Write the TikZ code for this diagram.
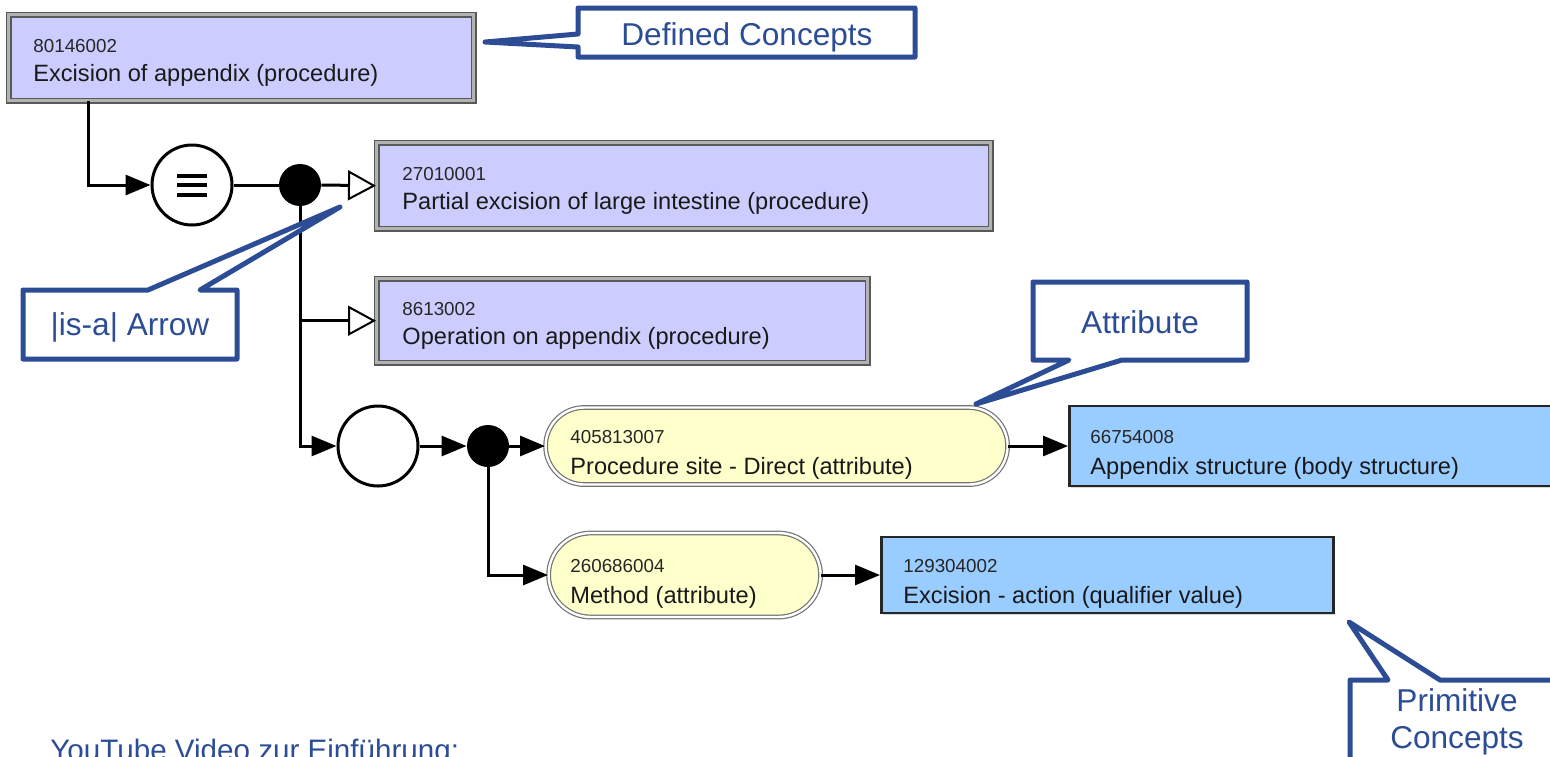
\documentclass[tikz,border=0pt]{standalone}
\usepackage{fontspec}
\setmainfont{Liberation Sans}
\usetikzlibrary{arrows.meta,calc,shapes.misc,shadows}
\definecolor{calloutblue}{RGB}{44,77,150}
\definecolor{lav}{HTML}{CCCCFF}
\definecolor{attrfill}{HTML}{FFFFCC}
\definecolor{primfill}{HTML}{99CCFF}
\begin{document}
\begin{tikzpicture}[x=0.5pt,y=-0.5pt,
  defbox/.style={rectangle, draw=black!65, double=black!30, double distance=1.5pt,
    line width=0.7pt, fill=lav, inner sep=0pt},
  primbox/.style={rectangle, draw=black!85, line width=1.4pt, fill=primfill, inner sep=0pt,
    drop shadow={shadow xshift=0.8pt, shadow yshift=-0.8pt, opacity=0.3}},
  attrbox/.style={rounded rectangle, draw=black!55, double=white, double distance=1.2pt,
    line width=0.6pt, fill=attrfill, inner sep=0pt},
  opnode/.style={circle, draw=black, line width=1.5pt, fill=white, minimum size=40pt, inner sep=0pt},
  dotnode/.style={circle, fill=black, minimum size=21pt, inner sep=0pt},
  conn/.style={line width=1.5pt, draw=black},
  arr/.style={conn, -{Triangle[length=12.5pt,width=10pt]}},
  isa/.style={conn, -{Triangle[open,length=14pt,width=15pt,line width=1pt,fill=white]}},
  numtext/.style={anchor=base west, inner sep=0pt, text=black!85, font=\fontsize{9.4}{11}\selectfont},
  labtext/.style={anchor=base west, inner sep=0pt, text=black!90, font=\fontsize{11.8}{14}\selectfont},
  callout/.style={draw=calloutblue, line width=2.5pt, line join=round, fill=white},
  callouttext/.style={anchor=base, inner sep=0pt, text=calloutblue, font=\fontsize{15.8}{17}\selectfont},
]
\useasboundingbox (0,0) rectangle (1550,756);
\clip (0,0) rectangle (1550,756);

% concept boxes
\node[defbox, minimum width=232.5pt, minimum height=43pt, anchor=north west] (b1) at (8,14) {};
\node[numtext] (b1n) at ($(b1.north west)+(25,38)$) {80146002};
\node[labtext] (b1l) at ($(b1.north west)+(25,67)$) {Excision of appendix (procedure)};

\node[defbox, minimum width=307pt, minimum height=43pt, anchor=north west] (b2) at (376,142) {};
\node[numtext] (b2n) at ($(b2.north west)+(26,38)$) {27010001};
\node[labtext] (b2l) at ($(b2.north west)+(26,67)$) {Partial excision of large intestine (procedure)};

\node[defbox, minimum width=245.5pt, minimum height=42pt, anchor=north west] (b3) at (376,278) {};
\node[numtext] (b3n) at ($(b3.north west)+(26,37)$) {8613002};
\node[labtext] (b3l) at ($(b3.north west)+(26,66)$) {Operation on appendix (procedure)};

% operators
\node[opnode] (c1) at (192,185) {};
\draw[line width=2pt] ($(c1)+(-15,-9.5)$) -- ++(30,0)
                      ($(c1)+(-15,0)$) -- ++(30,0)
                      ($(c1)+(-15,9.5)$) -- ++(30,0);
\node[dotnode] (d1) at (300,185) {};
\node[opnode] (c2) at (378,446) {};
\node[dotnode] (d2) at (488,446) {};

% attribute groups
\node[attrbox, minimum width=231pt, minimum height=38.5pt, anchor=west] (p1) at (545,446) {};
\node[numtext] (p1n) at ($(p1.west)+(25,-3)$) {405813007};
\node[labtext] (p1l) at ($(p1.west)+(25,28)$) {Procedure site - Direct (attribute)};

\node[primbox, minimum width=260pt, minimum height=40pt, anchor=west] (b4) at (1068,446) {};
\node[numtext] (b4n) at ($(b4.west)+(22,-3)$) {66754008};
\node[labtext] (b4l) at ($(b4.west)+(22,28)$) {Appendix structure (body structure)};

\node[attrbox, minimum width=136pt, minimum height=42pt, anchor=west] (p2) at (548,575) {};
\node[numtext] (p2n) at ($(p2.west)+(22,-3)$) {260686004};
\node[labtext] (p2l) at ($(p2.west)+(22,28)$) {Method (attribute)};

\node[primbox, minimum width=226pt, minimum height=38pt, anchor=west] (b5) at (880,575) {};
\node[numtext] (b5n) at ($(b5.west)+(23,-3)$) {129304002};
\node[labtext] (b5l) at ($(b5.west)+(23,28)$) {Excision - action (qualifier value)};

% connectors
\draw[arr] ($(b1.south west)+(80,0)$) |- (c1.west);
\draw[conn] (c1.east) -- (d1.west);
\draw[isa] (d1.east) -- (b2.west);
\draw[arr] (d1.south) |- (c2.west);
\draw[isa] (d1 |- b3.west) -- (b3.west);
\draw[arr] (c2.east) -- (d2.west);
\draw[arr] (d2.east) -- (p1.west);
\draw[arr] (p1.east) -- (b4.west);
\draw[arr] (d2.south) |- (p2.west);
\draw[arr] (p2.east) -- (b5.west);

% callouts
\draw[callout] (578,8) -- (915,8) -- (915,57) -- (578,57) -- (578,47) -- (485,42) -- (578,34) -- cycle;
\node[callouttext] (tdef) at (747,45) {Defined Concepts};

\draw[callout] (23,290) -- (148,290) -- (340,207) -- (200,290) -- (237,290) -- (237,359) -- (23,359) -- cycle;
\node[callouttext] (tisa) at (130,335) {|is-a| Arrow};

\draw[callout] (1033,282) -- (1247,282) -- (1247,360) -- (1122,360) -- (976,404) -- (1069,360) -- (1033,360) -- cycle;
\node[callouttext] (tattr) at (1140,333) {Attribute};

\draw[callout] (1350,800) -- (1350,680) -- (1388,680) -- (1349,622) -- (1440,680) -- (1600,680);
\node[callouttext] (tprim1) at (1457,711) {Primitive};
\node[callouttext] (tprim2) at (1457,748) {Concepts};

% footer line, running past the lower edge
\node[callouttext, anchor=base west, font=\fontsize{14.8}{17}\selectfont] (yt) at (50,760) {YouTube Video zur Einführung:};
\end{tikzpicture}
\end{document}
